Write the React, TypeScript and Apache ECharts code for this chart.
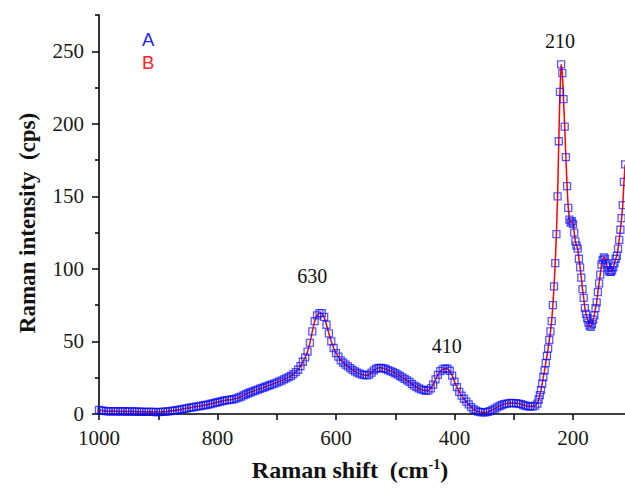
import React, { useEffect, useRef } from "react";
import * as echarts from "echarts";

// Sampling grid of the spectrum (Raman shift, cm-1)
const coarseStart = 1000; // 1000 -> 260, step 4
const coarseStep = 4;
const fineStart = 258; // 258 -> 112, step 2
const fineStep = 2;

// Intensities (cps), 1000 -> 260 cm-1
const coarseIntensity = [
  2.8, 2.5, 2.2, 2.0, 1.9, 1.9, 2.0, 1.9, 1.8, 1.8, 1.9, 1.8, 1.7, 1.8, 1.8, 1.7,
  1.6, 1.6, 1.5, 1.5, 1.4, 1.4, 1.5, 1.4, 1.3, 1.3, 1.4, 1.5, 1.6, 1.8, 2.0, 2.2,
  2.4, 2.7, 3.0, 3.3, 3.6, 3.9, 4.2, 4.5, 4.8, 5.1, 5.3, 5.6, 5.9, 6.2, 6.5, 6.9,
  7.3, 7.7, 8.1, 8.5, 8.9, 9.3, 9.6, 9.8, 10.0, 10.3, 10.8, 11.4, 12.0, 12.8, 13.6, 14.3,
  15.0, 15.6, 16.2, 16.8, 17.4, 18.0, 18.6, 19.2, 19.8, 20.4, 21.0, 21.6, 22.3, 23.0, 23.8, 24.6,
  25.4, 26.3, 27.5, 28.8, 30.5, 33, 36, 39, 43, 49, 57, 64, 68, 69.5, 69.5, 67,
  61.5, 55.5, 50, 45.5, 42, 39.5, 37, 35.5, 34, 32.8, 31.6, 30.4, 29.4, 28.5, 27.8, 27.2,
  26.8, 26.6, 27.2, 28.5, 30, 31.2, 31.8, 31.8, 31.5, 31, 30.3, 29.6, 28.9, 28.1, 27.2, 26.2,
  25.2, 24.2, 23.2, 22.1, 20.8, 19.6, 18.6, 17.7, 17, 16.4, 16, 16.3, 17.7, 20.3, 23.8, 27,
  29.5, 30.7, 31.4, 31.2, 29.8, 26.5, 22.3, 18.5, 15.3, 12.7, 10.5, 8.5, 6.6, 4.8, 3.3, 2.3,
  1.7, 1.3, 1.1, 1.1, 1.4, 2.0, 2.8, 3.7, 4.6, 5.5, 6.2, 6.8, 7.2, 7.5, 7.6, 7.5,
  7.4, 7.2, 6.8, 6.2, 5.7, 5.3, 5.1, 5.2, 5.8, 7.2,
];

// Intensities (cps), 258 -> 112 cm-1
const fineIntensity = [
  10, 13, 16.5, 21, 25.5, 30, 35, 40, 45, 51, 57, 64, 75, 88, 104, 124,
  150, 188, 222, 241, 235, 217, 198, 177, 157, 142, 134, 132, 133, 131, 125, 119,
  116, 114, 107, 101, 94, 86, 80, 73, 69, 66, 63, 61, 60, 62, 65, 68,
  73, 77, 84, 90, 96, 103, 106, 108, 107, 104, 101, 99, 98, 98, 99, 101,
  104, 107, 109, 114, 120, 127, 135, 144, 160, 172,
];

const legendNames = ["A", "B"];
const peakLabels = ["630", "410", "210"];
const peakShifts = [640, 413, 222];
const peakLabelLevels = [95, 47, 257];

const xTicks = { min: 0, max: 1000, interval: 200 };
const xLabelValues = [1000, 800, 600, 400, 200];
const yMajorTicks = [0, 50, 100, 150, 200, 250];
const yMinorTicks = [25, 75, 125, 175, 225, 275];

function buildSpectrum(): number[][] {
  const pts: number[][] = [];
  coarseIntensity.forEach((v, i) => pts.push([coarseStart - i * coarseStep, v]));
  fineIntensity.forEach((v, i) => pts.push([fineStart - i * fineStep, v]));
  return pts;
}

const SERIF = '"Liberation Serif", "Times New Roman", serif';
const SANS = '"Liberation Sans", Arial, sans-serif';

export default function App() {
  const ref = useRef<HTMLDivElement>(null);
  useEffect(() => {
    if (!ref.current) return;
    const chart = echarts.init(ref.current, undefined, { renderer: "svg" });
    const spectrum = buildSpectrum();
    const axisLine = { show: true, onZero: false, lineStyle: { color: "#000", width: 1.6 } };
    chart.setOption({
      animation: false,
      backgroundColor: "#fff",
      grid: {
        left: 99,
        top: 15,
        width: 592.5,
        height: 399,
        containLabel: false,
        outerBoundsMode: "none",
      },
      legend: {
        orient: "vertical",
        left: 132,
        top: 25,
        itemWidth: 0,
        itemHeight: 0,
        itemGap: 4,
        selectedMode: false,
        textStyle: { fontFamily: SANS, fontSize: 18.5 },
        data: [
          { name: legendNames[0], icon: "none", textStyle: { color: "#2222ff" } },
          { name: legendNames[1], icon: "none", textStyle: { color: "#ff2222" } },
        ],
      },
      xAxis: {
        type: "value",
        inverse: true,
        min: xTicks.min,
        max: xTicks.max,
        interval: xTicks.interval,
        axisLine,
        axisTick: { show: true, inside: false, length: 6, lineStyle: { color: "#000", width: 1.5 } },
        minorTick: { show: true, splitNumber: 2, length: 6, lineStyle: { color: "#000", width: 1.5 } },
        axisLabel: {
          margin: 13,
          fontFamily: SERIF,
          fontSize: 21,
          color: "#1a1a1a",
          customValues: xLabelValues,
          formatter: (v: number) => String(v),
        },
        splitLine: { show: false },
        minorSplitLine: { show: false },
      },
      yAxis: [
        {
          type: "value",
          position: "left",
          min: 0,
          max: 275,
          interval: 50,
          axisLine,
          axisTick: {
            show: true,
            length: 7,
            customValues: yMajorTicks,
            lineStyle: { color: "#000", width: 1.5 },
          },
          axisLabel: {
            margin: 15,
            fontFamily: SERIF,
            fontSize: 21,
            color: "#1a1a1a",
            customValues: yMajorTicks,
            formatter: (v: number) => String(v),
          },
          splitLine: { show: false },
        },
        {
          type: "value",
          position: "left",
          min: 0,
          max: 275,
          interval: 25,
          axisLine: { show: false, onZero: false },
          axisTick: {
            show: true,
            length: 4,
            customValues: yMinorTicks,
            lineStyle: { color: "#000", width: 1.5 },
          },
          axisLabel: { show: false },
          splitLine: { show: false },
        },
      ],
      graphic: [
        {
          type: "text",
          x: 27,
          y: 223,
          rotation: Math.PI / 2,
          style: {
            text: "Raman intensity  (cps)",
            font: `bold 23px ${SERIF}`,
            fill: "#111",
            textAlign: "center",
            textVerticalAlign: "middle",
          },
        },
        {
          type: "text",
          x: 350,
          y: 470,
          style: {
            text: "{a|Raman shift  (cm}{s|-1}{a|)}",
            textAlign: "center",
            textVerticalAlign: "middle",
            rich: {
              a: { font: `bold 24px ${SERIF}`, fill: "#111", color: "#111" },
              s: { font: `bold 14px ${SERIF}`, fill: "#111", color: "#111", verticalAlign: "top", padding: [0, 0, 12, 0] },
            },
          },
        },
      ],
      series: [
        {
          name: legendNames[1],
          type: "line",
          data: spectrum,
          showSymbol: false,
          symbol: "none",
          lineStyle: { color: "#ff0000", width: 1.5 },
          itemStyle: { color: "#ff0000" },
          z: 2,
          markPoint: {
            symbol: "circle",
            symbolSize: 1,
            itemStyle: { color: "transparent" },
            label: {
              show: true,
              position: "inside",
              fontFamily: SERIF,
              fontSize: 20,
              color: "#111",
            },
            data: peakLabels.map((t, i) => ({
              coord: [peakShifts[i], peakLabelLevels[i]],
              value: t,
              label: { formatter: t },
            })),
          },
        },
        {
          name: legendNames[0],
          type: "scatter",
          data: spectrum,
          symbol: "rect",
          symbolSize: 7,
          clip: false,
          itemStyle: { color: "transparent", borderColor: "rgba(10,10,255,0.85)", borderWidth: 1.3 },
          z: 3,
        },
      ],
    });
    return () => chart.dispose();
  }, []);
  return (
    <div
      ref={ref}
      style={{ position: "fixed", left: 0, top: 0, width: 625, height: 490, background: "#fff" }}
    />
  );
}
